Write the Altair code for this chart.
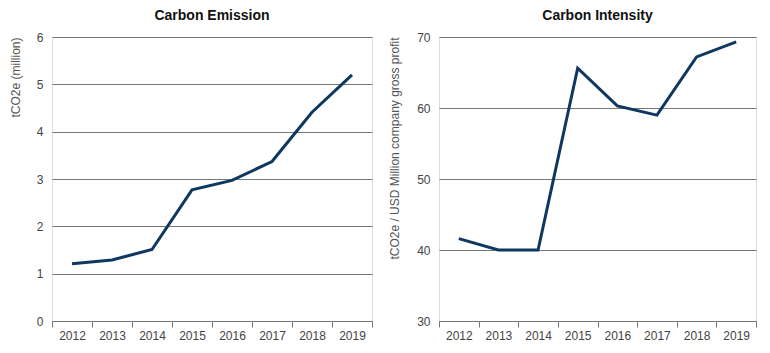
import altair as alt
import pandas as pd

years = ["2012", "2013", "2014", "2015", "2016", "2017", "2018", "2019"]
emission = [1.21, 1.29, 1.51, 2.77, 2.97, 3.37, 4.41, 5.2]
intensity = [41.6, 40.0, 40.0, 65.6, 60.3, 59.0, 67.2, 69.3]

df1 = pd.DataFrame({"year": years, "value": emission})
df2 = pd.DataFrame({"year": years, "value": intensity})

LINE = "#0e3860"
GRID = "#777777"
LABEL = "#444444"
FONT = "Liberation Sans"

def xaxis():
    return alt.X(
        "year:O",
        scale=alt.Scale(type="band", paddingInner=0, paddingOuter=0),
        axis=alt.Axis(
            title=None, labelAngle=0, tickBand="extent", grid=False,
            domainColor=GRID, tickColor=GRID, tickSize=6, labelPadding=3,
            labelFontSize=12, labelColor=LABEL, labelFont=FONT,
        ),
    )

def panel(df, title, ytitle, domain, step, w, h, tpad):
    return alt.Chart(df, title=alt.TitleParams(
        title, font=FONT, fontSize=14, fontWeight="bold", color="#111111", offset=8,
    )).mark_line(color=LINE, strokeWidth=3).encode(
        x=xaxis(),
        y=alt.Y(
            "value:Q",
            scale=alt.Scale(domain=domain, nice=False, zero=False),
            axis=alt.Axis(
                title=ytitle, titleAnchor="end", titleFont=FONT, titleFontSize=12,
                titleFontWeight="normal", titleColor="#555555", titlePadding=tpad,
                values=list(range(domain[0], domain[1] + 1, step)),
                domain=False, ticks=False, labelPadding=9, labelFontSize=12,
                labelColor=LABEL, labelFont=FONT, grid=True, gridColor=GRID,
                gridWidth=1.2, gridOpacity=1,
            ),
        ),
    ).properties(width=w, height=h)

left = panel(df1, "Carbon Emission", "tCO2e (million)", [0, 6], 1, 320, 284, 14)
right = panel(df2, "Carbon Intensity", "tCO2e / USD Million company gross profit", [30, 70], 10, 317, 284, 15)

chart = alt.hconcat(left, right, spacing=15).properties(
    padding={"left": 8, "top": 8, "right": 5, "bottom": 5}
).configure_view(stroke=None).configure(background="white")

chart.save("out.html", embed_options={"renderer": "svg", "actions": False})
